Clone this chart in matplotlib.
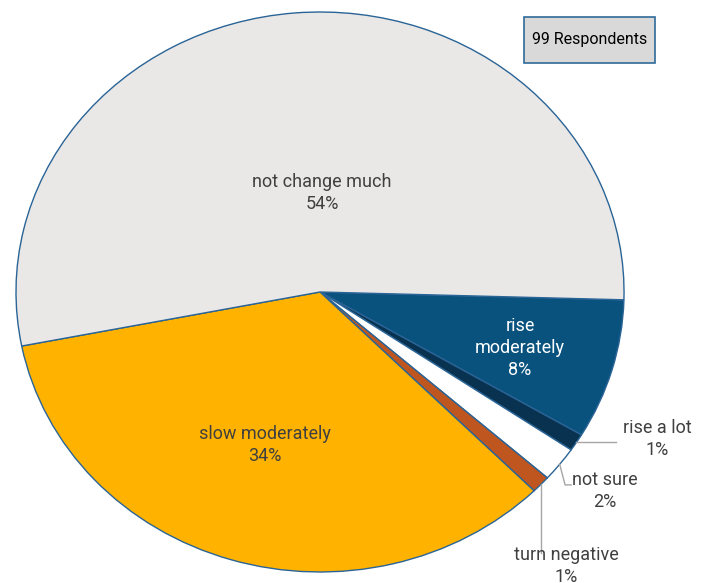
import numpy as np
import matplotlib.pyplot as plt
from matplotlib.patches import Rectangle

plt.rcParams['font.family'] = ['Roboto', 'DejaVu Sans']

# survey answers, 99 respondents in total
answers = ["rise moderately", "rise a lot", "not sure", "turn negative",
           "slow moderately", "not change much"]
counts = [8, 1, 2, 1, 34, 53]
colors = ["#0A527E", "#08324F", "#FFFFFF", "#C0561F", "#FFB300", "#E9E8E7"]
n_resp = sum(counts)

fig = plt.figure(figsize=(7.08, 5.83), dpi=100)
ax = fig.add_axes([0.0226, 0.0189, 0.8588, 0.9605])

wedges, _ = ax.pie(counts, colors=colors, startangle=-1.6, counterclock=False,
                   radius=1.0, wedgeprops=dict(edgecolor="#2A6496", linewidth=1.0))
ax.set_aspect('auto')
ax.set_xlim(-1, 1)
ax.set_ylim(-1, 1)

pct = [f"{100 * c / n_resp:.0f}%" for c in counts]
txt = "#404040"
fs = 13
ls = 1.28

# labels inside the big slices
ax.text(0.007, 0.352, f"not change much\n{pct[5]}", ha='center', va='center',
        color=txt, fontsize=fs, linespacing=ls)
ax.text(-0.181, -0.545, f"slow moderately\n{pct[4]}", ha='center', va='center',
        color=txt, fontsize=fs, linespacing=ls)
ax.text(0.658, -0.2, f"rise\nmoderately\n{pct[0]}", ha='center', va='center',
        color='white', fontsize=fs, linespacing=ls)


def anchor(w):
    mid = np.deg2rad((w.theta1 + w.theta2) / 2)
    return np.cos(mid), np.sin(mid)


# small slices get labels outside with leader lines
lc = "#A6A6A6"
x0, y0 = anchor(wedges[1])
ax.plot([x0, 0.974], [y0, y0], color=lc, lw=1, clip_on=False)
ax.text(1.109, -0.525, f"rise a lot\n{pct[1]}", ha='center', va='center',
        color=txt, fontsize=fs, linespacing=ls, clip_on=False)

x0, y0 = anchor(wedges[2])
ax.plot([x0, 0.806, 0.826], [y0, -0.689, -0.689], color=lc, lw=1, clip_on=False)
ax.text(0.9375, -0.711, f"not sure\n{pct[2]}", ha='center', va='center',
        color=txt, fontsize=fs, linespacing=ls, clip_on=False)

x0, y0 = anchor(wedges[3])
ax.plot([x0, x0], [y0, -0.932], color=lc, lw=1, clip_on=False)
ax.text(0.809, -0.977, f"turn negative\n{pct[3]}", ha='center', va='center',
        color=txt, fontsize=fs, linespacing=ls, clip_on=False)

# respondents box
fig.patches.append(Rectangle((0.740, 0.892), 0.185, 0.0789, transform=fig.transFigure,
                             facecolor="#D9D9D9", edgecolor="#2E6A9A", linewidth=1.2))
fig.text(0.8326, 0.9314, f"{n_resp} Respondents", ha='center', va='center',
         color='black', fontsize=11.5)

fig.savefig("out.png", dpi=100)
